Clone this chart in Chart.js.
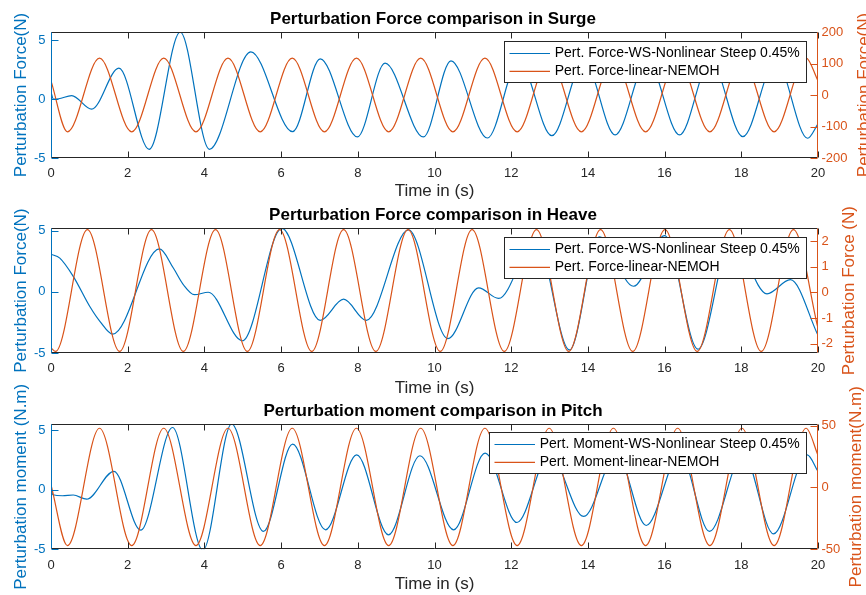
<!DOCTYPE html>
<html>
<head>
<meta charset="utf-8">
<script src="https://cdn.jsdelivr.net/npm/chart.js@4.4.1/dist/chart.umd.min.js"></script>
<style>
  html, body { margin: 0; padding: 0; background: #fff; }
  #wrap { position: relative; width: 866px; height: 595px; overflow: hidden; }
  #wrap canvas { position: absolute; left: 0; top: 0; }
</style>
</head>
<body>
<div id="wrap">
  <canvas id="surge" width="866" height="595"></canvas>
  <canvas id="heave" width="866" height="595"></canvas>
  <canvas id="pitch" width="866" height="595"></canvas>
</div>
<script>
// ---- data ----
const timeTicks = [0, 2, 4, 6, 8, 10, 12, 14, 16, 18, 20];

// Surge
const surgeWsTime = [0, 0.06, 0.2, 0.54, 1.06, 1.77, 2.56, 3.37, 4.13, 5.21, 6.30, 7.02, 7.99, 8.71, 9.71, 10.43, 11.38, 12.2, 13.06, 13.9, 14.71, 15.55, 16.39, 17.2, 18.04, 18.9, 19.73, 20];
const surgeWsForce = [0.6, 0.02, 0.04, 0.31, -0.85, 2.64, -4.26, 5.71, -4.26, 4.03, -2.76, 3.44, -3.21, 3.07, -3.21, 3.27, -3.30, 3.3, -3.10, 3.3, -3.04, 3.3, -3.04, 3.3, -3.18, 3.3, -3.32, -2.1];
const surgeNemohTime = [0, 0.43, 1.265, 2.105, 2.94, 3.78, 4.615, 5.455, 6.29, 7.13, 7.965, 8.805, 9.64, 10.48, 11.315, 12.155, 12.99, 13.83, 14.665, 15.505, 16.34, 17.18, 18.015, 18.855, 19.69, 20];
const surgeNemohForce = [45, -117, 117, -117, 117, -117, 117, -117, 117, -117, 117, -117, 117, -117, 117, -117, 117, -117, 117, -117, 117, -117, 117, -117, 117, 45];
const surgeLeftTicks = [-5, 0, 5];
const surgeRightTicks = [-200, -100, 0, 100, 200];

// Heave
const heaveWsTime = [0, 0.23, 0.58, 1.02, 1.28, 1.61, 2.83, 3.19, 3.45, 3.74, 4.1, 4.99, 6.02, 7.02, 7.63, 8.22, 9.32, 10.35, 11.15, 11.67, 12.65, 13.52, 14.3, 15.19, 16.0, 16.87, 17.75, 18.67, 19.28, 20];
const heaveWsForce = [3.08, 2.76, 1.27, -1.24, -2.43, -3.46, 3.51, 1.95, 0.6, -0.23, -0.03, -4.0, 5.2, -2.33, -0.6, -2.33, 5.07, -3.82, 0.33, -0.54, 4.3, -4.75, 4.5, 0.46, 4.6, -4.69, 4.4, -0.16, 1.0, -3.55];
const heaveNemohTime = [0, 0.12, 0.95, 1.79, 2.62, 3.45, 4.29, 5.12, 5.96, 6.80, 7.63, 8.47, 9.31, 10.15, 10.98, 11.82, 12.66, 13.50, 14.33, 15.17, 16.01, 16.85, 17.69, 18.52, 19.36, 20];
const heaveNemohForce = [-2.17, -2.31, 2.46, -2.31, 2.46, -2.31, 2.46, -2.31, 2.46, -2.31, 2.46, -2.31, 2.46, -2.31, 2.46, -2.31, 2.46, -2.31, 2.46, -2.31, 2.46, -2.31, 2.46, -2.31, 2.46, -1.4];
const heaveLeftTicks = [-5, 0, 5];
const heaveRightTicks = [-2, -1, 0, 1, 2];

// Pitch
const pitchWsTime = [0, 0.05, 0.3, 0.58, 0.93, 1.64, 2.34, 3.17, 3.96, 4.71, 5.54, 6.3, 7.16, 7.97, 8.80, 9.62, 10.5, 11.32, 12.15, 13.0, 13.89, 14.75, 15.52, 16.4, 17.17, 18.05, 18.84, 19.72, 20];
const pitchWsMoment = [0.1, -0.42, -0.5, -0.44, -0.79, 1.55, -3.39, 5.23, -5.08, 5.54, -3.5, 3.84, -3.36, 2.94, -3.78, 2.86, -3.36, 3.08, -2.75, 3.0, -2.24, 3.0, -3.0, 3.0, -3.5, 3.0, -3.7, 2.94, 1.54];
const pitchNemohTime = [0, 0.43, 1.265, 2.105, 2.94, 3.78, 4.615, 5.455, 6.29, 7.13, 7.965, 8.805, 9.64, 10.48, 11.315, 12.155, 12.99, 13.83, 14.665, 15.505, 16.34, 17.18, 18.015, 18.855, 19.69, 20];
const pitchNemohMoment = [2, -47, 47.8, -47, 47.8, -47, 47.8, -47, 47.8, -47, 47.8, -47, 47.8, -47, 47.8, -47, 47.8, -47, 47.8, -47, 47.8, -47, 47.8, -47, 47.8, 26];
const pitchLeftTicks = [-5, 0, 5];
const pitchRightTicks = [-50, 0, 50];

// ---- style ----
const BLUE = '#0072BD';
const ORANGE = '#D95319';
const AX_DARK = '#262626';
const FONT = '"Liberation Sans", Arial, Helvetica, sans-serif';
Chart.defaults.font.family = FONT;

const toPoints = (t, v) => t.map((x, i) => ({ x: x, y: v[i] }));

// box, inward ticks, legend and right-hand label drawn like MATLAB's yyaxis
const matlabFrame = {
  id: 'matlabFrame',
  afterDatasetsDraw(chart, args, opts) {
    const { ctx, chartArea: a, scales } = chart;
    const seg = (x1, y1, x2, y2, color, w) => {
      ctx.strokeStyle = color;
      ctx.lineWidth = w || 1;
      ctx.beginPath();
      ctx.moveTo(x1, y1);
      ctx.lineTo(x2, y2);
      ctx.stroke();
    };
    ctx.save();
    const L = Math.round(a.left) + 0.5, R = Math.round(a.right) - 0.5;
    const T = Math.round(a.top) + 0.5, B = Math.round(a.bottom) - 0.5;

    scales.x.ticks.forEach(t => {
      const p = Math.round(scales.x.getPixelForValue(t.value)) + 0.5;
      seg(p, B, p, B - 6, AX_DARK);
      seg(p, T, p, T + 6, AX_DARK);
    });
    scales.yL.ticks.forEach(t => {
      const p = Math.round(scales.yL.getPixelForValue(t.value)) + 0.5;
      seg(L, p, L + 7, p, BLUE);
    });
    scales.yR.ticks.forEach(t => {
      const p = Math.round(scales.yR.getPixelForValue(t.value)) + 0.5;
      seg(R, p, R - 7, p, ORANGE);
    });
    seg(L, T, R, T, AX_DARK);
    seg(L, B, R, B, AX_DARK);
    seg(L, T, L, B, BLUE);
    seg(R, T, R, B, ORANGE);

    // legend (northeast)
    ctx.font = '14px ' + FONT;
    const sets = chart.data.datasets;
    const textW = Math.max(...sets.map(d => ctx.measureText(d.label).width));
    const right = Math.round(a.right - 12);
    const left = Math.round(right - (50.7 + textW + 6));
    const top = Math.round(a.top + opts.legendTop);
    const h = 41;
    ctx.fillStyle = '#fff';
    ctx.fillRect(left, top, right - left, h);
    ctx.strokeStyle = AX_DARK;
    ctx.lineWidth = 1;
    ctx.strokeRect(left + 0.5, top + 0.5, right - left, h);
    sets.forEach((d, i) => {
      const yy = top + 12.5 + i * 17.8;
      seg(left + 5.5, yy, left + 46, yy, d.borderColor, 1.2);
      ctx.fillStyle = '#000';
      ctx.textAlign = 'left';
      ctx.textBaseline = 'middle';
      ctx.fillText(d.label, left + 50.7, yy);
    });

    // right axis label, reading bottom to top
    ctx.font = '17px ' + FONT;
    ctx.fillStyle = ORANGE;
    ctx.translate(opts.rightTitleX, (a.top + a.bottom) / 2);
    ctx.rotate(-Math.PI / 2);
    ctx.textAlign = 'center';
    ctx.textBaseline = 'alphabetic';
    ctx.fillText(opts.rightTitle, 0, 0);
    ctx.restore();
  }
};

function buildChart(id, spec) {
  const ctx = document.getElementById(id).getContext('2d');
  return new Chart(ctx, {
    type: 'line',
    data: {
      datasets: [
        {
          label: spec.wsLabel,
          data: toPoints(spec.wsTime, spec.wsValues),
          yAxisID: 'yL',
          borderColor: BLUE,
          borderWidth: 1.2,
          pointRadius: 0,
          cubicInterpolationMode: 'monotone',
          order: 1,
        },
        {
          label: spec.nemohLabel,
          data: toPoints(spec.nemohTime, spec.nemohValues),
          yAxisID: 'yR',
          borderColor: ORANGE,
          borderWidth: 1.2,
          pointRadius: 0,
          cubicInterpolationMode: 'monotone',
          order: 0,
        },
      ],
    },
    options: {
      responsive: false,
      animation: false,
      devicePixelRatio: 1,
      layout: { padding: { left: 0, right: 0, top: 0, bottom: spec.padBottom } },
      plugins: {
        legend: { display: false },
        tooltip: { enabled: false },
        title: {
          display: true,
          text: spec.title,
          color: '#000',
          font: { size: 17, weight: 'bold' },
          padding: { top: spec.titleTop, bottom: spec.titleBottom },
        },
        matlabFrame: {
          legendTop: spec.legendTop,
          rightTitle: spec.rightTitle,
          rightTitleX: spec.rightTitleX,
        },
      },
      scales: {
        x: {
          type: 'linear',
          position: 'bottom',
          min: 0,
          max: 20,
          afterBuildTicks: s => { s.ticks = timeTicks.map(v => ({ value: v })); },
          afterFit: s => { s.height = spec.xHeight; },
          grid: { display: false, drawTicks: false },
          border: { display: false },
          ticks: { color: AX_DARK, font: { size: 13 }, padding: 8, autoSkip: false, maxRotation: 0, callback: v => String(v) },
          title: { display: true, text: 'Time in (s)', color: AX_DARK, font: { size: 17 }, padding: 0 },
        },
        yL: {
          type: 'linear',
          position: 'left',
          min: spec.leftMin,
          max: spec.leftMax,
          afterBuildTicks: s => { s.ticks = spec.leftTicks.map(v => ({ value: v })); },
          afterFit: s => { s.width = 51; },
          grid: { display: false, drawTicks: false },
          border: { display: false },
          ticks: { color: BLUE, font: { size: 13 }, padding: 5.5, callback: v => String(v) },
          title: { display: true, text: spec.leftTitle, color: BLUE, font: { size: 17 }, padding: { top: 11, bottom: 0 } },
        },
        yR: {
          type: 'linear',
          position: 'right',
          min: spec.rightMin,
          max: spec.rightMax,
          afterBuildTicks: s => { s.ticks = spec.rightTicks.map(v => ({ value: v })); },
          afterFit: s => { s.width = 48; },
          grid: { display: false, drawTicks: false },
          border: { display: false },
          ticks: { color: ORANGE, font: { size: 13 }, padding: 3.5, callback: v => String(v) },
        },
      },
    },
    plugins: [matlabFrame],
  });
}

buildChart('surge', {
  title: 'Perturbation Force comparison in Surge',
  wsLabel: 'Pert. Force-WS-Nonlinear Steep 0.45%',
  nemohLabel: 'Pert. Force-linear-NEMOH',
  wsTime: surgeWsTime, wsValues: surgeWsForce,
  nemohTime: surgeNemohTime, nemohValues: surgeNemohForce,
  leftMin: -5, leftMax: 5.72, leftTicks: surgeLeftTicks,
  rightMin: -200, rightMax: 200, rightTicks: surgeRightTicks,
  leftTitle: 'Perturbation Force(N)', rightTitle: 'Perturbation Force(N)', rightTitleX: 869,
  titleTop: 9.3, titleBottom: 2.3, xHeight: 43.9, padBottom: 393.1, legendTop: 9,
});

buildChart('heave', {
  title: 'Perturbation Force comparison in Heave',
  wsLabel: 'Pert. Force-WS-Nonlinear Steep 0.45%',
  nemohLabel: 'Pert. Force-linear-NEMOH',
  wsTime: heaveWsTime, wsValues: heaveWsForce,
  nemohTime: heaveNemohTime, nemohValues: heaveNemohForce,
  leftMin: -5, leftMax: 5.2, leftTicks: heaveLeftTicks,
  rightMin: -2.37, rightMax: 2.51, rightTicks: heaveRightTicks,
  leftTitle: 'Perturbation Force(N)', rightTitle: 'Perturbation Force (N)', rightTitleX: 854,
  titleTop: 204.8, titleBottom: 3.1, xHeight: 45.5, padBottom: 196.5, legendTop: 8.4,
});

buildChart('pitch', {
  title: 'Perturbation moment comparison in Pitch',
  wsLabel: 'Pert. Moment-WS-Nonlinear Steep 0.45%',
  nemohLabel: 'Pert. Moment-linear-NEMOH',
  wsTime: pitchWsTime, wsValues: pitchWsMoment,
  nemohTime: pitchNemohTime, nemohValues: pitchNemohMoment,
  leftMin: -5, leftMax: 5.5, leftTicks: pitchLeftTicks,
  rightMin: -50, rightMax: 51, rightTicks: pitchRightTicks,
  leftTitle: 'Perturbation moment (N.m)', rightTitle: 'Perturbation moment(N.m)', rightTitleX: 860.5,
  titleTop: 401.3, titleBottom: 2.6, xHeight: 45.2, padBottom: 0.5, legendTop: 7.4,
});
</script>
</body>
</html>
